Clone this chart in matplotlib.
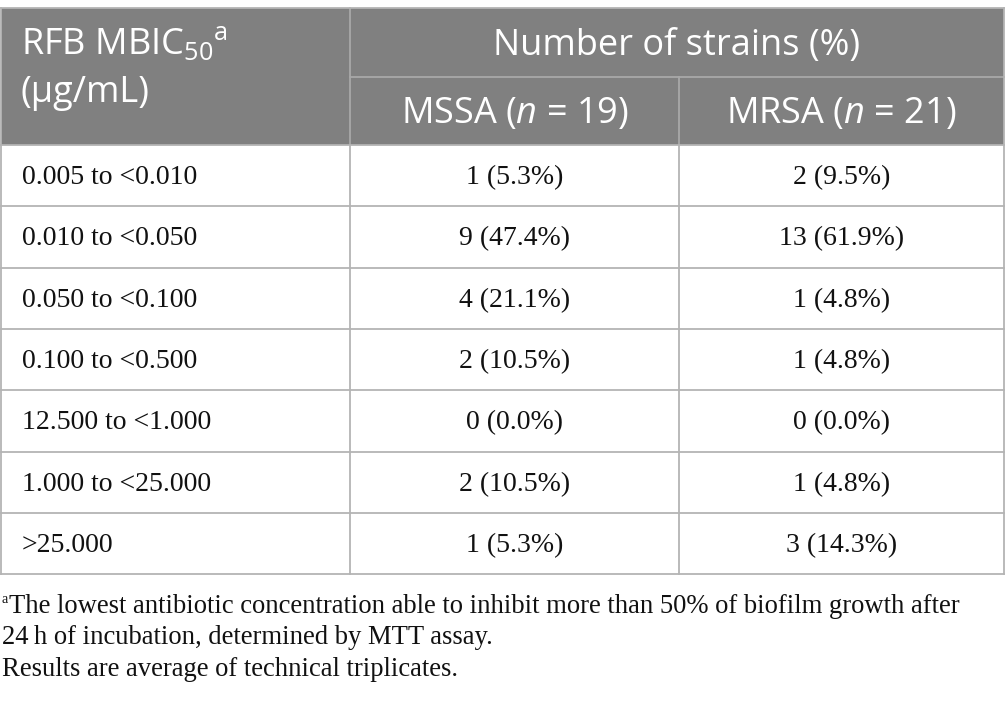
import matplotlib
matplotlib.use("Agg")
import matplotlib.pyplot as plt
from matplotlib.patches import Rectangle

plt.rcParams['mathtext.fontset'] = 'custom'
plt.rcParams['mathtext.rm'] = 'Open Sans'
plt.rcParams['mathtext.it'] = 'Open Sans:italic'

# table data
ranges = ['0.005 to <0.010', '0.010 to <0.050', '0.050 to <0.100', '0.100 to <0.500',
          '12.500 to <1.000', '1.000 to <25.000', '>25.000']
mssa_counts = [1, 9, 4, 2, 0, 2, 1]
mssa_pct = [5.3, 47.4, 21.1, 10.5, 0.0, 10.5, 5.3]
mrsa_counts = [2, 13, 1, 1, 0, 1, 3]
mrsa_pct = [9.5, 61.9, 4.8, 4.8, 0.0, 4.8, 14.3]
header_first = 'RFB MBIC$_{50}$$^{\\mathrm{a}}$'
header_unit = '(μg/mL)'
header_group = 'Number of strains (%)'
header_cols = ['MSSA ($n$ = 19)', 'MRSA ($n$ = 21)']
footnotes = ['The lowest antibiotic concentration able to inhibit more than 50% of biofilm growth after',
             '24\u2009h of incubation, determined by MTT assay.',
             'Results are average of technical triplicates.']

W, H = 1005, 706
fig = plt.figure(figsize=(W / 100, H / 100), dpi=100)
ax = fig.add_axes([0, 0, 1, 1])
ax.set_xlim(0, W)
ax.set_ylim(H, 0)
ax.axis('off')

# layout (pixels)
col_x = [1, 350, 679, 1004]
top, mid, head_bot = 8, 77, 145
row_h = 61.3
n_rows = len(ranges)
bottom = head_bot + row_h * n_rows
head_bg = '#808080'
head_line = '#a8a8a8'
body_line = '#b4b4b4'

# header background
ax.add_patch(Rectangle((col_x[0], top), col_x[-1] - col_x[0], head_bot - top,
                       facecolor=head_bg, edgecolor='none'))
ax.plot([col_x[1], col_x[-1]], [mid, mid], color=head_line, lw=1.3)
ax.plot([col_x[1], col_x[1]], [top, head_bot], color=head_line, lw=1.3)
ax.plot([col_x[2], col_x[2]], [mid, head_bot], color=head_line, lw=1.3)

hfont = dict(family='Open Sans', color='white', fontsize=26)
ax.text(21, 44, header_first, ha='left', va='center', **hfont)
ax.text(21, 93, header_unit, ha='left', va='center', **hfont)
ax.text((col_x[1] + col_x[-1]) / 2, 46, header_group, ha='center', va='center', **hfont)
for j, lab in enumerate(header_cols):
    ax.text((col_x[j + 1] + col_x[j + 2]) / 2, 114, lab, ha='center', va='center', **hfont)

# body grid
for i in range(n_rows + 1):
    y = head_bot + row_h * i
    ax.plot([col_x[0], col_x[-1]], [y, y], color=body_line, lw=1.3)
for x in col_x:
    ax.plot([x, x], [head_bot, bottom], color=body_line, lw=1.3)
for x in (col_x[0], col_x[-1]):
    ax.plot([x, x], [top, head_bot], color=body_line, lw=1.3)
ax.plot([col_x[0], col_x[-1]], [top, top], color=body_line, lw=1.3)

bfont = dict(family='Liberation Serif', color='#111111', fontsize=20)
for i in range(n_rows):
    yc = head_bot + row_h * (i + 0.5) + 2
    ax.text(22, yc, ranges[i], ha='left', va='center', **bfont)
    ax.text((col_x[1] + col_x[2]) / 2, yc, f'{mssa_counts[i]} ({mssa_pct[i]:.1f}%)',
            ha='center', va='center', **bfont)
    ax.text((col_x[2] + col_x[3]) / 2, yc, f'{mrsa_counts[i]} ({mrsa_pct[i]:.1f}%)',
            ha='center', va='center', **bfont)

# footnotes
ffont = dict(family='Liberation Serif', color='#111111', fontsize=19.2)
ax.text(2, 603, 'a', ha='left', va='baseline', family='Liberation Serif',
        color='#111111', fontsize=10)
for k, line in enumerate(footnotes):
    ax.text(9 if k == 0 else 2, 613 + 31.5 * k, line, ha='left', va='baseline', **ffont)

fig.savefig('out.png', dpi=100)
